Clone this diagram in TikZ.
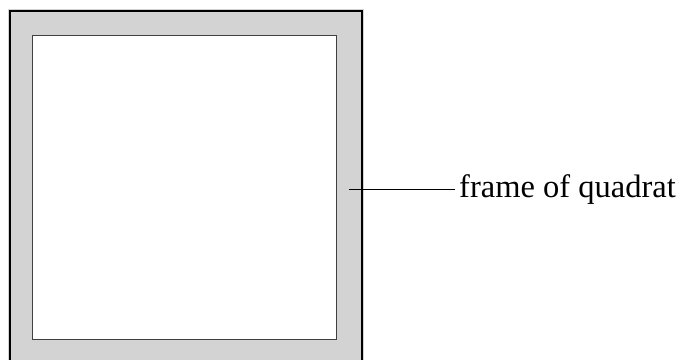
\documentclass[tikz,border=0pt]{standalone}
\usepackage{fontspec}
\setmainfont{Liberation Serif}
\definecolor{framegray}{RGB}{211,211,211}
\begin{document}
\begin{tikzpicture}[x=1pt, y=-1pt]
\useasboundingbox (0,0) rectangle (684,359);
\begin{scope}
\clip (0,0) rectangle (684,359);
\fill[framegray] (8,9) rectangle (364,366);
\draw[line width=2.6pt] (10,11) rectangle (362,364);
\filldraw[fill=white, draw=black!75, line width=0.8pt] (32,35) rectangle (336,339);
\end{scope}
\coordinate (P_in) at (349,189);
\node[anchor=west, inner sep=4pt, font=\fontsize{32.5}{36}\selectfont] (L_frame) at (455,190) {frame of quadrat};
\draw[line width=1pt] (P_in) -- (P_in -| L_frame.west);
\end{tikzpicture}
\end{document}
